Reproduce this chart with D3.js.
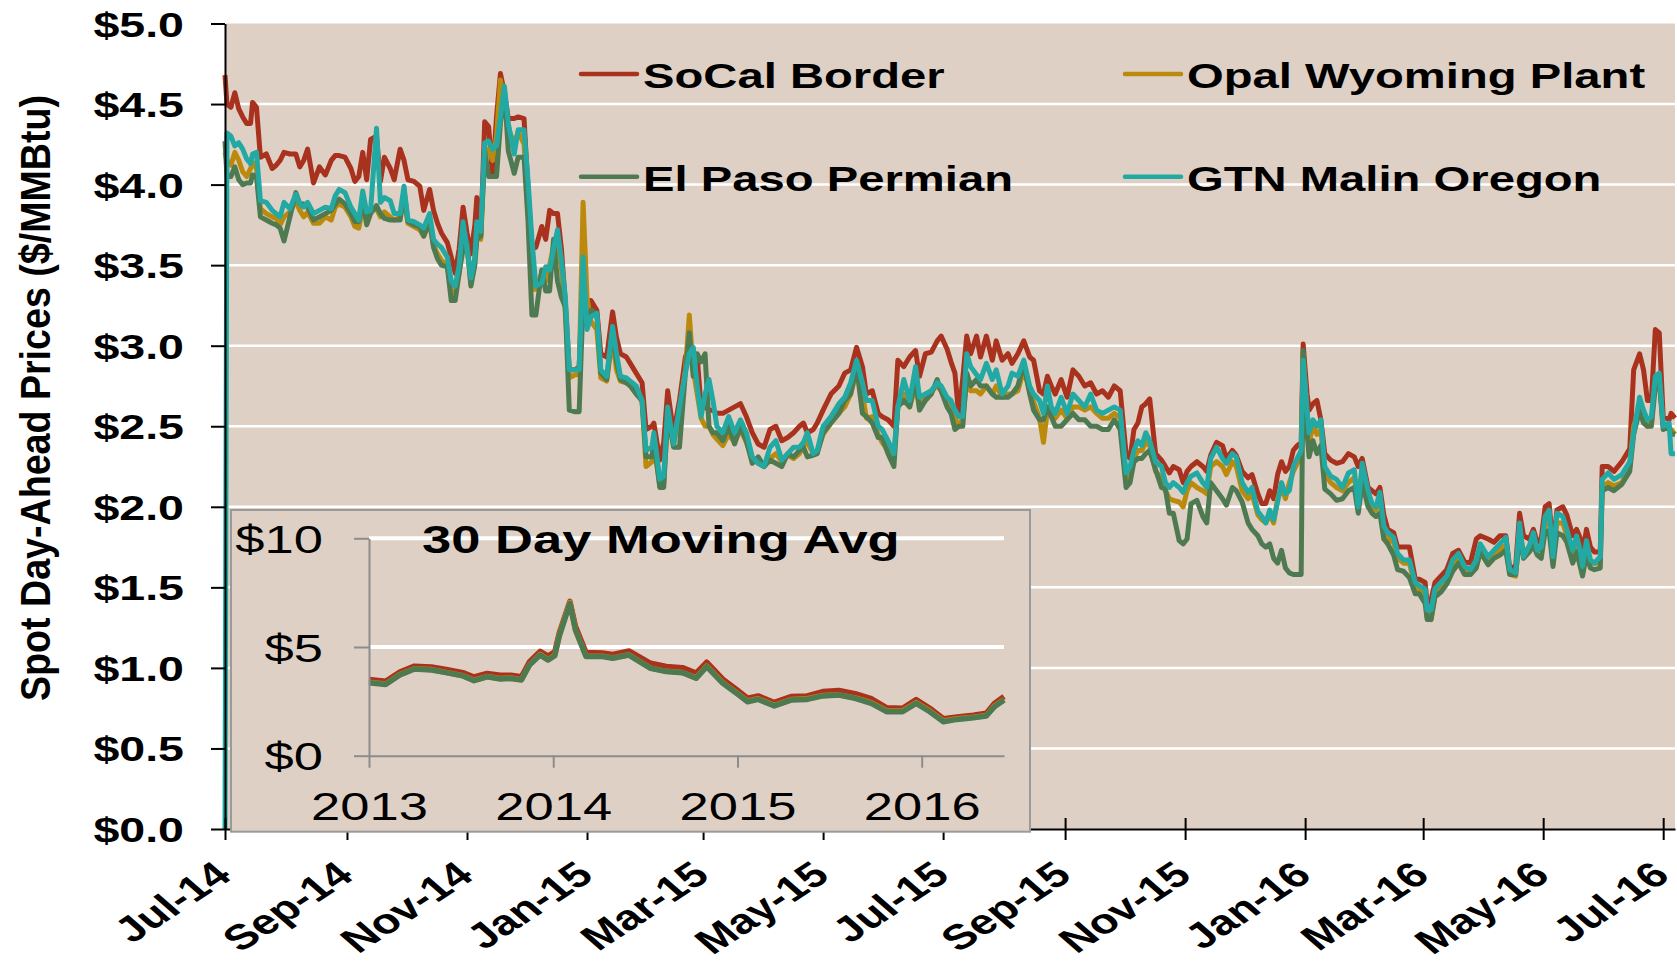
<!DOCTYPE html>
<html>
<head>
<meta charset="utf-8">
<script src="https://cdn.jsdelivr.net/npm/d3@7"></script>
<style>
  body { margin: 0; background: #fff; }
  text { font-family: "Liberation Sans", Arial, sans-serif; }
</style>
</head>
<body>
<div id="chart"></div>
<script>
// daily spot prices
const dates = [
  "2014-07-01","2014-07-02","2014-07-04","2014-07-06","2014-07-08","2014-07-10","2014-07-12","2014-07-14","2014-07-15","2014-07-17","2014-07-19","2014-07-22","2014-07-25","2014-07-27","2014-07-29","2014-07-31",
  "2014-08-03","2014-08-06","2014-08-08","2014-08-10","2014-08-12","2014-08-15","2014-08-18","2014-08-21","2014-08-24","2014-08-26","2014-08-28","2014-08-31",
  "2014-09-03","2014-09-05","2014-09-07","2014-09-09","2014-09-11","2014-09-13","2014-09-16","2014-09-18","2014-09-20","2014-09-23","2014-09-25","2014-09-28","2014-09-30",
  "2014-10-02","2014-10-05","2014-10-08","2014-10-10","2014-10-13","2014-10-15","2014-10-17","2014-10-19","2014-10-22","2014-10-24","2014-10-26","2014-10-28","2014-10-30",
  "2014-11-01","2014-11-03","2014-11-05","2014-11-06","2014-11-08","2014-11-10","2014-11-12","2014-11-14","2014-11-16","2014-11-18","2014-11-20","2014-11-22","2014-11-25","2014-11-27","2014-11-30",
  "2014-12-02","2014-12-04","2014-12-06","2014-12-09","2014-12-11","2014-12-13","2014-12-15","2014-12-17","2014-12-19","2014-12-21","2014-12-23","2014-12-26","2014-12-28","2014-12-30",
  "2015-01-01","2015-01-03","2015-01-06","2015-01-08","2015-01-11","2015-01-14","2015-01-16","2015-01-18","2015-01-21","2015-01-23","2015-01-26","2015-01-29","2015-01-31",
  "2015-02-03","2015-02-04","2015-02-07","2015-02-09","2015-02-11","2015-02-14","2015-02-17","2015-02-20","2015-02-22","2015-02-24","2015-02-26","2015-02-28",
  "2015-03-02","2015-03-04","2015-03-06","2015-03-08","2015-03-11","2015-03-14","2015-03-17","2015-03-20","2015-03-23","2015-03-26","2015-03-29",
  "2015-04-01","2015-04-04","2015-04-07","2015-04-10","2015-04-13","2015-04-16","2015-04-19","2015-04-21","2015-04-23","2015-04-26","2015-04-28",
  "2015-05-01","2015-05-05","2015-05-09","2015-05-12","2015-05-15","2015-05-18","2015-05-21","2015-05-23","2015-05-26","2015-05-29","2015-05-31",
  "2015-06-03","2015-06-06","2015-06-08","2015-06-11","2015-06-14","2015-06-17","2015-06-19","2015-06-22","2015-06-25","2015-06-28","2015-06-30",
  "2015-07-03","2015-07-05","2015-07-07","2015-07-09","2015-07-11","2015-07-13","2015-07-15","2015-07-18","2015-07-20","2015-07-23","2015-07-26","2015-07-28","2015-07-31",
  "2015-08-03","2015-08-05","2015-08-08","2015-08-11","2015-08-14","2015-08-16","2015-08-19","2015-08-21","2015-08-23","2015-08-25","2015-08-27","2015-08-30",
  "2015-09-02","2015-09-05","2015-09-08","2015-09-11","2015-09-14","2015-09-17","2015-09-20","2015-09-23","2015-09-26","2015-09-29",
  "2015-10-02","2015-10-04","2015-10-06","2015-10-08","2015-10-10","2015-10-12","2015-10-14","2015-10-17","2015-10-20","2015-10-22","2015-10-24","2015-10-26","2015-10-29","2015-10-31",
  "2015-11-02","2015-11-04","2015-11-07","2015-11-10","2015-11-12","2015-11-14","2015-11-17","2015-11-20","2015-11-22","2015-11-25","2015-11-27","2015-11-30",
  "2015-12-03","2015-12-05","2015-12-08","2015-12-10","2015-12-12","2015-12-14","2015-12-16","2015-12-18","2015-12-20","2015-12-22","2015-12-24","2015-12-26","2015-12-28","2015-12-30","2015-12-31",
  "2016-01-02","2016-01-03","2016-01-05","2016-01-07","2016-01-09","2016-01-11","2016-01-14","2016-01-17","2016-01-20","2016-01-23","2016-01-26","2016-01-28","2016-01-30",
  "2016-02-02","2016-02-04","2016-02-06","2016-02-08","2016-02-10","2016-02-12","2016-02-15","2016-02-17","2016-02-20","2016-02-23","2016-02-26","2016-02-28",
  "2016-03-02","2016-03-03","2016-03-05","2016-03-07","2016-03-10","2016-03-13","2016-03-16","2016-03-19","2016-03-22","2016-03-25","2016-03-28","2016-03-30",
  "2016-04-03","2016-04-06","2016-04-09","2016-04-12","2016-04-14","2016-04-17","2016-04-19","2016-04-21","2016-04-24","2016-04-26","2016-04-28","2016-04-30",
  "2016-05-02","2016-05-04","2016-05-06","2016-05-08","2016-05-11","2016-05-13","2016-05-16","2016-05-18","2016-05-20","2016-05-21","2016-05-23","2016-05-25","2016-05-27","2016-05-30","2016-05-31",
  "2016-06-03","2016-06-06","2016-06-10","2016-06-14","2016-06-16","2016-06-19","2016-06-21","2016-06-23","2016-06-25","2016-06-27","2016-06-29",
  "2016-07-01","2016-07-04","2016-07-05","2016-07-07"
];

const socal = [
  4.68,4.50,4.48,4.57,4.47,4.42,4.38,4.38,4.51,4.48,4.17,4.19,4.10,4.12,4.15,4.20,
  4.19,4.19,4.11,4.15,4.22,4.01,4.11,4.06,4.15,4.18,4.18,4.17,
  4.10,4.02,4.05,4.20,4.03,4.28,4.30,4.02,4.17,4.10,4.03,4.22,4.15,
  4.03,4.02,3.99,3.84,3.97,3.84,3.76,3.70,3.64,3.55,3.45,3.60,3.86,
  3.70,3.57,3.75,3.92,3.68,4.39,4.36,4.05,4.42,4.69,4.57,4.41,4.41,4.42,4.41,
  3.97,3.61,3.61,3.74,3.66,3.84,3.82,3.82,3.60,3.26,2.85,2.85,2.87,3.45,
  3.12,3.28,3.22,2.95,2.93,3.21,3.05,2.95,2.93,2.89,2.83,2.77,2.48,
  2.50,2.52,2.29,2.40,2.72,2.46,2.66,2.93,2.99,2.95,2.93,2.62,
  2.62,2.60,2.60,2.58,2.58,2.60,2.62,2.64,2.56,2.46,2.39,
  2.37,2.48,2.50,2.41,2.43,2.46,2.50,2.52,2.46,2.48,2.52,
  2.60,2.70,2.75,2.83,2.85,2.99,2.87,2.70,2.72,2.58,2.56,
  2.54,2.50,2.91,2.87,2.93,2.97,2.81,2.95,2.96,3.03,3.06,
  2.98,2.90,2.83,2.56,2.80,3.06,2.95,3.06,2.93,3.06,2.91,3.03,2.91,
  2.95,2.89,2.95,3.03,2.93,2.91,2.72,2.70,2.81,2.75,2.70,2.79,
  2.68,2.85,2.81,2.75,2.77,2.70,2.72,2.68,2.75,2.72,
  2.33,2.30,2.48,2.52,2.62,2.64,2.67,2.33,2.29,2.25,2.21,2.25,2.23,2.15,
  2.22,2.25,2.28,2.25,2.22,2.32,2.40,2.38,2.30,2.35,2.32,2.22,
  2.18,2.20,2.08,2.02,2.02,2.10,2.05,2.20,2.28,2.22,2.25,2.35,2.38,2.40,3.01,
  2.70,2.60,2.64,2.66,2.54,2.33,2.29,2.27,2.28,2.33,2.31,2.25,2.30,
  2.12,2.10,2.08,2.12,1.95,1.86,1.84,1.75,1.75,1.75,1.55,1.55,
  1.53,1.40,1.42,1.53,1.57,1.61,1.71,1.73,1.66,1.65,1.80,1.82,
  1.80,1.78,1.82,1.82,1.62,1.63,1.96,1.82,1.80,1.86,1.78,1.80,
  2.00,2.02,1.75,1.98,2.00,1.95,1.82,1.86,1.80,1.70,1.86,1.75,1.72,1.72,2.25,
  2.25,2.22,2.28,2.36,2.85,2.95,2.85,2.66,2.66,3.10,3.08,
  2.56,2.54,2.58,2.55
];

const opal = [
  4.20,4.15,4.12,4.20,4.15,4.08,4.05,4.10,4.14,4.10,3.85,3.82,3.80,3.79,3.75,3.80,
  3.83,3.90,3.84,3.80,3.83,3.76,3.76,3.80,3.78,3.86,3.88,3.86,
  3.80,3.74,3.73,3.85,3.78,3.84,3.85,3.80,3.83,3.80,3.78,3.80,3.90,
  3.76,3.74,3.72,3.68,3.76,3.62,3.57,3.53,3.50,3.33,3.33,3.45,3.70,
  3.62,3.38,3.55,3.68,3.66,4.20,4.22,4.15,4.30,4.65,4.50,4.35,4.25,4.33,4.25,
  3.85,3.35,3.35,3.45,3.40,3.50,3.62,3.65,3.48,3.20,2.80,2.82,2.82,3.89,
  3.30,3.15,3.10,2.80,2.78,3.05,2.85,2.78,2.77,2.76,2.72,2.65,2.25,
  2.28,2.40,2.13,2.15,2.55,2.38,2.60,2.85,3.19,2.85,2.70,2.55,
  2.50,2.50,2.45,2.42,2.38,2.45,2.40,2.48,2.40,2.30,2.27,
  2.25,2.30,2.33,2.28,2.32,2.30,2.33,2.38,2.40,2.33,2.34,
  2.45,2.52,2.58,2.62,2.70,2.84,2.70,2.55,2.56,2.45,2.40,
  2.35,2.32,2.62,2.70,2.62,2.75,2.62,2.68,2.72,2.75,2.72,
  2.65,2.60,2.55,2.50,2.55,2.78,2.72,2.72,2.70,2.75,2.70,2.75,2.68,
  2.70,2.70,2.72,2.85,2.72,2.65,2.55,2.40,2.60,2.58,2.55,2.60,
  2.55,2.62,2.62,2.60,2.62,2.58,2.55,2.55,2.58,2.55,
  2.18,2.20,2.30,2.35,2.35,2.40,2.38,2.22,2.18,2.10,2.05,2.04,2.03,2.00,
  2.10,2.15,2.12,2.10,2.08,2.25,2.28,2.25,2.20,2.28,2.25,2.10,
  2.05,2.08,1.95,1.92,1.90,1.95,1.90,2.05,2.12,2.05,2.15,2.22,2.27,2.30,2.95,
  2.55,2.40,2.50,2.45,2.48,2.20,2.15,2.12,2.10,2.15,2.18,2.05,2.22,
  2.05,2.00,1.98,2.05,1.85,1.80,1.78,1.68,1.65,1.65,1.50,1.48,
  1.45,1.32,1.30,1.45,1.50,1.55,1.63,1.68,1.60,1.58,1.63,1.72,
  1.66,1.70,1.74,1.76,1.58,1.57,1.84,1.72,1.75,1.80,1.73,1.74,
  1.90,1.92,1.68,1.90,1.90,1.82,1.70,1.75,1.68,1.60,1.74,1.65,1.65,1.65,2.12,
  2.15,2.13,2.15,2.25,2.50,2.62,2.55,2.50,2.52,2.78,2.80,
  2.50,2.48,2.48,2.45
];

const elPaso = [
  4.27,4.05,4.05,4.11,4.03,4.00,4.01,4.01,4.06,4.05,3.80,3.78,3.76,3.75,3.73,3.65,
  3.80,3.95,3.88,3.88,3.86,3.78,3.80,3.82,3.84,3.88,3.91,3.88,
  3.82,3.77,3.77,3.90,3.75,3.82,3.87,3.82,3.79,3.78,3.78,3.78,3.96,
  3.77,3.75,3.74,3.68,3.78,3.61,3.54,3.50,3.49,3.28,3.28,3.45,3.60,
  3.64,3.37,3.50,3.66,3.68,4.21,4.05,4.05,4.05,4.38,4.59,4.21,4.07,4.17,4.17,
  3.78,3.19,3.19,3.47,3.34,3.34,3.66,3.40,3.30,3.24,2.60,2.59,2.59,3.28,
  3.12,3.22,3.20,2.83,2.79,3.10,2.90,2.79,2.77,2.75,2.70,2.66,2.31,
  2.31,2.41,2.12,2.12,2.58,2.37,2.37,2.83,3.08,2.81,2.95,2.90,
  2.95,2.50,2.46,2.46,2.41,2.50,2.39,2.50,2.41,2.27,2.31,
  2.25,2.29,2.27,2.25,2.33,2.31,2.35,2.37,2.31,2.32,2.33,
  2.46,2.52,2.58,2.66,2.70,2.87,2.58,2.56,2.52,2.43,2.43,
  2.33,2.25,2.62,2.66,2.62,2.79,2.60,2.66,2.70,2.79,2.72,
  2.62,2.58,2.48,2.50,2.50,2.83,2.75,2.79,2.75,2.75,2.70,2.68,2.68,
  2.68,2.70,2.75,2.89,2.70,2.60,2.54,2.54,2.62,2.56,2.50,2.50,
  2.54,2.58,2.54,2.54,2.50,2.50,2.48,2.48,2.54,2.48,
  2.12,2.15,2.28,2.30,2.30,2.33,2.35,2.23,2.12,2.11,1.96,1.96,1.79,1.77,
  1.80,2.02,2.04,1.94,1.90,2.15,2.10,2.05,2.01,2.12,2.10,2.03,
  1.90,1.86,1.82,1.77,1.75,1.77,1.68,1.65,1.73,1.62,1.59,1.58,1.58,1.58,2.97,
  2.45,2.31,2.41,2.33,2.38,2.11,2.08,2.04,2.05,2.10,2.12,1.96,2.15,
  2.00,1.96,1.94,1.96,1.80,1.77,1.70,1.61,1.60,1.56,1.46,1.46,
  1.40,1.30,1.30,1.44,1.47,1.52,1.60,1.65,1.58,1.58,1.62,1.72,
  1.64,1.68,1.70,1.73,1.58,1.58,1.82,1.68,1.72,1.76,1.70,1.68,
  1.85,1.85,1.63,1.84,1.82,1.78,1.65,1.72,1.62,1.57,1.70,1.62,1.61,1.62,2.10,
  2.12,2.10,2.14,2.22,2.45,2.60,2.52,2.50,2.50,2.75,2.78,
  2.48,2.50,2.45,2.45
];

const gtnMalin = [
  0.00,4.32,4.30,4.24,4.26,4.22,4.16,4.13,4.19,4.20,3.90,3.89,3.84,3.82,3.80,3.89,
  3.85,3.94,3.88,3.86,3.89,3.82,3.84,3.86,3.85,3.93,3.97,3.95,
  3.86,3.82,3.78,3.96,3.83,3.84,4.35,3.89,3.92,3.90,3.82,3.82,3.99,
  3.78,3.77,3.75,3.73,3.82,3.66,3.63,3.61,3.55,3.40,3.37,3.50,3.77,
  3.60,3.42,3.55,3.77,3.71,4.26,4.27,4.22,4.24,4.42,4.61,4.38,4.19,4.34,4.34,
  4.03,3.66,3.37,3.39,3.49,3.47,3.60,3.72,3.53,3.30,2.85,2.85,2.85,3.55,
  3.10,3.18,3.20,2.85,2.81,3.12,2.95,2.81,2.80,2.78,2.75,2.66,2.35,
  2.37,2.46,2.17,2.19,2.62,2.39,2.62,2.83,2.95,2.99,2.75,2.56,
  2.70,2.79,2.66,2.50,2.46,2.56,2.46,2.54,2.46,2.31,2.27,
  2.25,2.37,2.41,2.29,2.33,2.37,2.37,2.40,2.46,2.33,2.35,
  2.50,2.56,2.64,2.68,2.77,2.91,2.77,2.66,2.66,2.50,2.48,
  2.41,2.33,2.62,2.79,2.66,2.87,2.68,2.70,2.72,2.77,2.75,
  2.68,2.66,2.60,2.56,2.56,2.95,2.87,2.82,2.79,2.89,2.79,2.85,2.70,
  2.75,2.83,2.81,2.91,2.75,2.70,2.66,2.58,2.75,2.62,2.58,2.68,
  2.58,2.70,2.66,2.62,2.70,2.60,2.58,2.60,2.62,2.60,
  2.21,2.25,2.35,2.41,2.38,2.46,2.41,2.28,2.25,2.15,2.12,2.15,2.12,2.09,
  2.15,2.19,2.21,2.15,2.12,2.30,2.37,2.30,2.27,2.33,2.31,2.15,
  2.09,2.12,1.97,1.94,1.90,1.98,1.92,2.03,2.15,2.08,2.10,2.25,2.30,2.35,2.91,
  2.60,2.46,2.54,2.50,2.54,2.25,2.19,2.17,2.12,2.21,2.23,2.00,2.27,
  2.10,2.02,2.00,2.09,1.88,1.84,1.81,1.71,1.67,1.67,1.53,1.51,
  1.49,1.36,1.36,1.49,1.53,1.57,1.67,1.71,1.63,1.61,1.67,1.77,
  1.69,1.73,1.77,1.81,1.61,1.59,1.90,1.69,1.76,1.84,1.73,1.75,
  1.94,1.98,1.69,1.96,1.94,1.86,1.73,1.82,1.72,1.63,1.79,1.67,1.65,1.69,2.17,
  2.21,2.17,2.20,2.28,2.46,2.68,2.60,2.54,2.56,2.81,2.83,
  2.50,2.52,2.33,2.33
];

const seriesNames = ["SoCal Border", "Opal Wyoming Plant", "El Paso Permian", "GTN Malin Oregon"];
const seriesColors = ["#a9321f", "#bb8a0c", "#4e7a52", "#22a9a3"];

// 30 day moving average (inset)
const avgDates = [
  "2013-01-01","2013-02-03","2013-03-03","2013-04-01","2013-05-05","2013-06-03","2013-07-06","2013-07-28","2013-08-23","2013-09-18","2013-10-09","2013-10-30",
  "2013-11-15","2013-12-06","2013-12-22","2014-01-04","2014-01-13","2014-02-03","2014-02-14","2014-03-07","2014-04-08","2014-04-29","2014-05-31","2014-07-13",
  "2014-08-13","2014-09-14","2014-10-11","2014-11-01","2014-12-03","2014-12-30","2015-01-21","2015-02-11","2015-03-15","2015-04-17","2015-05-19","2015-06-19",
  "2015-07-21","2015-08-22","2015-09-23","2015-10-24","2015-11-24","2015-12-21","2016-01-17","2016-02-13","2016-03-11","2016-04-12","2016-05-08","2016-05-24","2016-06-12"
];
const avgSocal = [3.50,3.42,3.85,4.12,4.08,3.97,3.82,3.62,3.78,3.70,3.70,3.63,4.32,4.80,4.58,4.78,5.65,7.10,5.95,4.75,4.72,4.66,4.82,4.25,
  4.10,4.05,3.80,4.30,3.52,3.05,2.65,2.75,2.45,2.72,2.75,2.95,3.00,2.85,2.62,2.20,2.18,2.58,2.18,1.70,1.78,1.86,1.95,2.40,2.72];
const avgOpal = [3.38,3.30,3.73,4.00,3.96,3.83,3.68,3.47,3.64,3.55,3.57,3.50,4.18,4.66,4.42,4.62,5.55,7.05,5.80,4.58,4.58,4.50,4.64,4.03,
  3.88,3.83,3.58,4.12,3.36,2.90,2.52,2.62,2.32,2.58,2.62,2.77,2.80,2.66,2.44,2.06,2.06,2.44,2.06,1.60,1.70,1.77,1.85,2.28,2.58];
const avgElPaso = [3.36,3.28,3.71,3.99,3.94,3.82,3.67,3.45,3.63,3.53,3.55,3.48,4.17,4.63,4.40,4.60,5.50,7.00,5.78,4.56,4.56,4.48,4.63,4.02,
  3.87,3.82,3.56,4.10,3.33,2.87,2.48,2.59,2.29,2.56,2.59,2.75,2.79,2.64,2.41,2.02,2.02,2.41,2.02,1.56,1.67,1.75,1.83,2.25,2.56];

const yTicks = [0, 0.5, 1, 1.5, 2, 2.5, 3, 3.5, 4, 4.5, 5];
const avgTicks = [0, 5, 10];
const avgYears = ["2013-01-01", "2014-01-01", "2015-01-01", "2016-01-01"];

const parse = d3.timeParse("%Y-%m-%d");
const SX = 1.33;   // the original picture is stretched sideways
const bg = "#dfd0c5";

const svg = d3.select("#chart").append("svg")
    .attr("width", 1677)
    .attr("height", 963);

const x = d3.scaleTime()
    .domain([parse("2014-07-01"), parse("2016-07-07")])
    .range([225, 1675]);

const y = d3.scaleLinear()
    .domain([0, 5])
    .range([829, 23.5]);

svg.append("rect")
    .attr("x", 226).attr("y", y(5))
    .attr("width", 1675 - 226).attr("height", y(0) - y(5))
    .attr("fill", bg);

svg.selectAll(".grid")
    .data(yTicks.filter(d => d > 0 && d < 5))
    .enter().append("line")
    .attr("x1", 226).attr("x2", 1675)
    .attr("y1", d => y(d)).attr("y2", d => y(d))
    .attr("stroke", "#fff").attr("stroke-width", 2.5);

const allSeries = [socal, opal, elPaso, gtnMalin].map((vals, i) => ({
    name: seriesNames[i],
    color: seriesColors[i],
    points: vals.map((v, j) => ({ date: parse(dates[j]), value: v }))
}));

const line = d3.line()
    .x(d => x(d.date))
    .y(d => y(d.value));

svg.selectAll(".series")
    .data(allSeries)
    .enter().append("path")
    .attr("class", "series")
    .attr("fill", "none")
    .attr("stroke", d => d.color)
    .attr("stroke-width", 5)
    .attr("stroke-linejoin", "round")
    .attr("d", d => line(d.points));

// y axis
const yAxis = svg.append("g")
    .attr("transform", "translate(225,0)")
    .call(d3.axisLeft(y).tickValues(yTicks).tickFormat(d => "$" + d.toFixed(1)).tickSize(14).tickSizeOuter(0));
yAxis.select(".domain").attr("stroke", "#000").attr("stroke-width", 2);
yAxis.selectAll(".tick line").attr("stroke", "#000").attr("stroke-width", 2);
yAxis.selectAll(".tick text")
    .attr("x", 0).attr("dy", 0)
    .attr("transform", `translate(-41,12.5) scale(${SX},1)`)
    .attr("text-anchor", "end")
    .attr("font-size", 35).attr("font-weight", "bold").attr("fill", "#000");

// x axis
const xAxis = svg.append("g")
    .attr("transform", `translate(0,${y(0)})`)
    .call(d3.axisBottom(x).ticks(d3.timeMonth.every(2)).tickFormat(d3.timeFormat("%b-%y")).tickSizeOuter(0));
xAxis.select(".domain").attr("stroke", "#000").attr("stroke-width", 2);
xAxis.selectAll(".tick line").attr("y1", -11).attr("y2", 11).attr("stroke", "#000").attr("stroke-width", 2);
xAxis.selectAll(".tick text")
    .attr("y", 0).attr("dy", 0)
    .attr("transform", `translate(8,49) scale(${SX},1) rotate(-41)`)
    .attr("text-anchor", "end")
    .attr("font-size", 35).attr("font-weight", "bold").attr("fill", "#000");

svg.append("text")
    .attr("transform", `translate(50,398) scale(1.2,1) rotate(-90)`)
    .attr("text-anchor", "middle")
    .attr("font-size", 36).attr("font-weight", "bold")
    .attr("textLength", 606).attr("lengthAdjust", "spacingAndGlyphs")
    .text("Spot Day-Ahead Prices ($/MMBtu)");

// legend
const legendPos = [[581, 74], [1125, 74], [581, 176.7], [1125, 176.7]];
const legend = svg.selectAll(".legend")
    .data(allSeries)
    .enter().append("g")
    .attr("transform", (d, i) => `translate(${legendPos[i][0]},${legendPos[i][1]})`);
legend.append("line")
    .attr("x1", 0).attr("x2", 56)
    .attr("stroke", d => d.color).attr("stroke-width", 4.5).attr("stroke-linecap", "round");
legend.append("text")
    .attr("transform", `translate(62,14) scale(${SX},1)`)
    .attr("font-size", 35.5).attr("font-weight", "bold")
    .text(d => d.name);

// inset: 30 day moving average
const inset = svg.append("g");
inset.append("rect")
    .attr("x", 231).attr("y", 510)
    .attr("width", 799).attr("height", 321.7)
    .attr("fill", bg).attr("stroke", "#9a9a9a").attr("stroke-width", 2);

const ix = d3.scaleTime()
    .domain([parse("2013-01-01"), parse("2016-06-12")])
    .range([369, 1004]);
const iy = d3.scaleLinear()
    .domain([0, 10])
    .range([755.7, 538.3]);

inset.selectAll(".igrid")
    .data(avgTicks.filter(d => d > 0))
    .enter().append("line")
    .attr("x1", 369).attr("x2", 1004)
    .attr("y1", d => iy(d)).attr("y2", d => iy(d))
    .attr("stroke", "#fff").attr("stroke-width", 4);

const avgSeries = [avgSocal, avgOpal, avgElPaso].map((vals, i) => ({
    color: seriesColors[i],
    points: vals.map((v, j) => ({ date: parse(avgDates[j]), value: v }))
}));
const iline = d3.line()
    .x(d => ix(d.date))
    .y(d => iy(d.value));
inset.selectAll(".avg")
    .data(avgSeries)
    .enter().append("path")
    .attr("fill", "none")
    .attr("stroke", d => d.color)
    .attr("stroke-width", 5.5)
    .attr("stroke-linejoin", "round")
    .attr("d", d => iline(d.points));

const iyAxis = inset.append("g")
    .attr("transform", "translate(369,0)")
    .call(d3.axisLeft(iy).tickValues(avgTicks).tickFormat(d => "$" + d).tickSize(15).tickSizeOuter(0));
const ixAxis = inset.append("g")
    .attr("transform", `translate(0,${iy(0)})`)
    .call(d3.axisBottom(ix).tickValues(avgYears.map(parse)).tickFormat(d3.timeFormat("%Y")).tickSize(12).tickSizeOuter(0));
[iyAxis, ixAxis].forEach(g => {
    g.select(".domain").attr("stroke", "#8c8c8c").attr("stroke-width", 2);
    g.selectAll(".tick line").attr("stroke", "#8c8c8c").attr("stroke-width", 2);
});
iyAxis.selectAll(".tick text")
    .attr("x", 0).attr("dy", 0)
    .attr("transform", `translate(-46,14) scale(${SX},1)`)
    .attr("text-anchor", "end")
    .attr("font-size", 39.5).attr("fill", "#000");
ixAxis.selectAll(".tick text")
    .attr("y", 0).attr("dy", 0)
    .attr("transform", `translate(0,64) scale(${SX},1)`)
    .attr("text-anchor", "middle")
    .attr("font-size", 39.5).attr("fill", "#000");

inset.append("text")
    .attr("transform", `translate(422,553) scale(${SX},1)`)
    .attr("font-size", 39.5).attr("font-weight", "bold")
    .text("30 Day Moving Avg");
</script>
</body>
</html>
